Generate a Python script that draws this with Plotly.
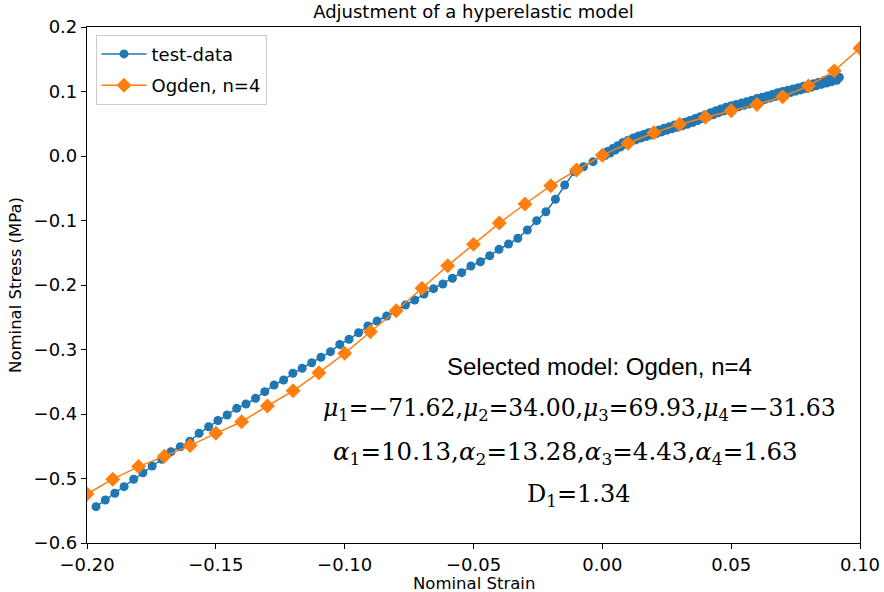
import plotly.graph_objects as go

# ---- test data (compression branch) ----
test_strain_neg = [-0.1965, -0.1929, -0.1892, -0.1856, -0.1819, -0.1783, -0.1747, -0.1710, -0.1674, -0.1638,
                   -0.1601, -0.1565, -0.1528, -0.1492, -0.1456, -0.1419, -0.1383, -0.1346, -0.1310, -0.1274,
                   -0.1237, -0.1201, -0.1165, -0.1128, -0.1092, -0.1055, -0.1019, -0.0983, -0.0946, -0.0910,
                   -0.0874, -0.0837, -0.0801, -0.0764, -0.0728, -0.0692, -0.0655, -0.0619, -0.0582, -0.0546,
                   -0.0510, -0.0473, -0.0437, -0.0401, -0.0364, -0.0328, -0.0291, -0.0255, -0.0219, -0.0182,
                   -0.0146, -0.0109, -0.0073, -0.0036, 0.0000]
test_stress_neg = [-0.5437, -0.5333, -0.5229, -0.5127, -0.5012, -0.4910, -0.4806, -0.4702, -0.4584, -0.4507,
                   -0.4422, -0.4299, -0.4197, -0.4101, -0.4016, -0.3912, -0.3845, -0.3757, -0.3654, -0.3550,
                   -0.3473, -0.3369, -0.3291, -0.3205, -0.3121, -0.3034, -0.2922, -0.2842, -0.2740, -0.2636,
                   -0.2558, -0.2481, -0.2403, -0.2310, -0.2233, -0.2140, -0.2057, -0.1984, -0.1896, -0.1809,
                   -0.1705, -0.1639, -0.1546, -0.1447, -0.1364, -0.1276, -0.1147, -0.1003, -0.0864, -0.0671,
                   -0.0450, -0.0243, -0.0166, -0.0088, 0.0000]

# ---- test data (tension branch: loading then unloading) ----
test_strain_load = [0.002, 0.004, 0.006, 0.008, 0.010, 0.012, 0.014, 0.016, 0.018, 0.020,
                    0.022, 0.024, 0.026, 0.028, 0.030, 0.032, 0.034, 0.036, 0.038, 0.040,
                    0.042, 0.044, 0.046, 0.048, 0.050, 0.052, 0.054, 0.056, 0.058, 0.060,
                    0.062, 0.064, 0.066, 0.068, 0.070, 0.072, 0.074, 0.076, 0.078, 0.080,
                    0.082, 0.084, 0.086, 0.088, 0.090, 0.092]
test_stress_load = [0.007, 0.0115, 0.016, 0.021, 0.0245, 0.028, 0.031, 0.0335, 0.036, 0.038,
                    0.0405, 0.043, 0.0455, 0.048, 0.050, 0.0525, 0.055, 0.058, 0.061, 0.064,
                    0.067, 0.070, 0.073, 0.0755, 0.078, 0.080, 0.082, 0.084, 0.0865, 0.089,
                    0.091, 0.093, 0.0955, 0.098, 0.100, 0.102, 0.104, 0.106, 0.108, 0.110,
                    0.112, 0.1145, 0.1165, 0.1185, 0.1205, 0.122]
test_strain_unload = [0.091, 0.089, 0.087, 0.085, 0.083, 0.081, 0.079, 0.077, 0.075, 0.073,
                      0.071, 0.069, 0.067, 0.065, 0.063, 0.061, 0.059, 0.057, 0.055, 0.053,
                      0.051, 0.049, 0.047, 0.045, 0.043, 0.041, 0.039, 0.037, 0.035, 0.033,
                      0.031, 0.029, 0.027, 0.025, 0.023, 0.021, 0.019, 0.017, 0.015, 0.013,
                      0.011, 0.009, 0.007, 0.005, 0.003, 0.001]
test_stress_unload = [0.1175, 0.1153, 0.113, 0.111, 0.1088, 0.1065, 0.1045, 0.1025, 0.1005, 0.0985,
                      0.0965, 0.0945, 0.0923, 0.0898, 0.0875, 0.0855, 0.0833, 0.0808, 0.0785, 0.0765,
                      0.0745, 0.0723, 0.0698, 0.067, 0.064, 0.061, 0.058, 0.055, 0.052, 0.0493,
                      0.0468, 0.0445, 0.0423, 0.0398, 0.0373, 0.0348, 0.0325, 0.0303, 0.0278, 0.025,
                      0.0218, 0.0183, 0.014, 0.0093, 0.0047, 0.0005]

# ---- Ogden n=4 model curve ----
model_strain = [-0.20, -0.19, -0.18, -0.17, -0.16, -0.15, -0.14, -0.13, -0.12, -0.11,
                -0.10, -0.09, -0.08, -0.07, -0.06, -0.05, -0.04, -0.03, -0.02, -0.01,
                0.00, 0.01, 0.02, 0.03, 0.04, 0.05, 0.06, 0.07, 0.08, 0.09, 0.10]
model_stress = [-0.524, -0.501, -0.4815, -0.4655, -0.449, -0.430, -0.412, -0.3876, -0.364, -0.336,
                -0.306, -0.2724, -0.240, -0.205, -0.170, -0.137, -0.104, -0.0744, -0.046, -0.0217,
                0.001, 0.0197, 0.0361, 0.0491, 0.060, 0.0702, 0.080, 0.092, 0.1085, 0.132, 0.167]

x_ticks = [-0.20, -0.15, -0.10, -0.05, 0.00, 0.05, 0.10]
y_ticks = [0.2, 0.1, 0.0, -0.1, -0.2, -0.3, -0.4, -0.5, -0.6]

BLUE = "#1f77b4"
ORANGE = "#ff7f0e"

test_x = test_strain_neg + test_strain_load + test_strain_unload
test_y = test_stress_neg + test_stress_load + test_stress_unload

fig = go.Figure()
fig.add_trace(go.Scatter(x=test_x, y=test_y, mode="lines+markers", name="test-data",
                         legendgroup="a",
                         line=dict(color=BLUE, width=1.5),
                         marker=dict(symbol="circle", size=9, color=BLUE)))
fig.add_trace(go.Scatter(x=model_strain, y=model_stress, mode="lines+markers", name="Ogden, n=4",
                         legendgroup="b",
                         line=dict(color=ORANGE, width=1.5),
                         marker=dict(symbol="diamond", size=11.5, color=ORANGE)))

SANS = "DejaVu Sans"
SERIF = "DejaVu Serif"

fig.update_layout(
    width=884, height=592,
    margin=dict(l=87, r=24, t=27, b=49, autoexpand=False),
    paper_bgcolor="white", plot_bgcolor="white",
    font=dict(family=SANS, color="black", size=18),
    title=dict(text="Adjustment of a hyperelastic model", x=0.5, xref="paper",
               y=1 - 12 / 592, yref="container", yanchor="middle", xanchor="center",
               font=dict(family=SANS, size=18, color="black")),
    showlegend=True,
    legend=dict(x=0.011, y=0.985, xanchor="left", yanchor="top",
                bgcolor="rgba(255,255,255,0.8)", bordercolor="#cccccc", borderwidth=1,
                font=dict(family=SANS, size=18, color="black"), tracegroupgap=5,
                itemwidth=45),
    xaxis=dict(range=[-0.20, 0.10], tickvals=x_ticks, tickformat=".2f", automargin=False,
               showgrid=False, zeroline=False, showline=True, mirror=True,
               linecolor="black", linewidth=1.2, ticks="outside", ticklen=5, tickcolor="black",
               tickfont=dict(family=SANS, size=18)),
    yaxis=dict(range=[-0.6, 0.2], tickvals=y_ticks, tickformat=".1f", automargin=False,
               showgrid=False, zeroline=False, showline=True, mirror=True,
               linecolor="black", linewidth=1.2, ticks="outside", ticklen=5, tickcolor="black",
               tickfont=dict(family=SANS, size=18),
               title=dict(text="Nominal Stress (MPa)", font=dict(family=SANS, size=16.5), standoff=7)),
)

# x-axis title placed just below the tick labels
fig.add_annotation(text="Nominal Strain", x=0.5, y=-0.079, xref="paper", yref="paper",
                   xanchor="center", yanchor="middle", showarrow=False,
                   font=dict(family=SANS, size=16.5, color="black"))

annots = [
    ("Selected model: Ogden, n=4", 0.6624, 0.3411, "Liberation Sans", 24),
    ("<i>μ</i><sub>1</sub>=−71.62,<i>μ</i><sub>2</sub>=34.00,<i>μ</i><sub>3</sub>=69.93,<i>μ</i><sub>4</sub>=−31.63",
     0.6365, 0.2578, SERIF, 23.5),
    ("<i>α</i><sub>1</sub>=10.13,<i>α</i><sub>2</sub>=13.28,<i>α</i><sub>3</sub>=4.43,<i>α</i><sub>4</sub>=1.63",
     0.6184, 0.1744, SERIF, 24.5),
    ("D<sub>1</sub>=1.34", 0.6352, 0.0930, SERIF, 24),
]
for txt, ax, ay, fam, sz in annots:
    fig.add_annotation(text=txt, x=ax, y=ay, xref="paper", yref="paper",
                       xanchor="center", yanchor="middle", showarrow=False,
                       font=dict(family=fam, size=sz, color="black"))

fig.write_html("out.html")
